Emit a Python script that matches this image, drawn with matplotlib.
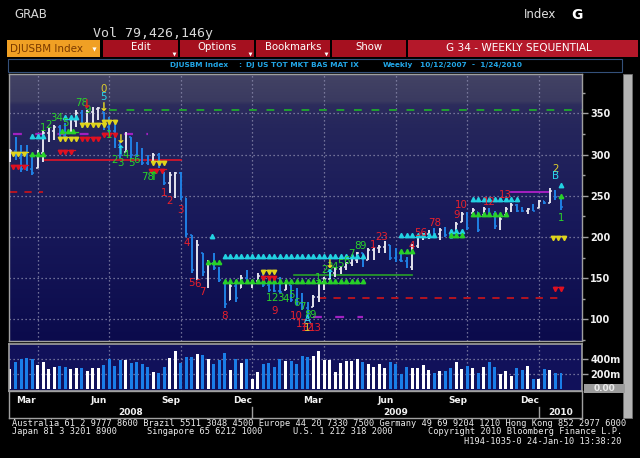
import datetime as dt
import numpy as np
import matplotlib
matplotlib.use('Agg')
import matplotlib.pyplot as plt
import matplotlib.dates as mdates
from matplotlib.colors import LinearSegmentedColormap
from matplotlib.patches import Rectangle

plt.rcParams['font.family'] = ['DejaVu Sans']

# ---- weekly data, DJUSBM index ----
start = dt.date(2008, 2, 22)
highs = [307, 321, 311, 311, 301, 305, 330, 332, 336, 336, 338, 344, 354, 354, 354, 358, 358, 352, 345, 338,
         315, 327, 321, 315, 308, 300, 302, 302, 279, 279, 279, 279, 247, 202, 196, 181, 172, 180, 163, 144,
         144, 148, 154, 160, 148, 156, 156, 150, 147, 151, 148, 142, 138, 132, 121, 130, 148, 151, 158, 163,
         165, 170, 174, 182, 180, 186, 188, 190, 195, 190, 186, 181, 176, 192, 200, 205, 208, 211, 211, 212,
         208, 218, 230, 230, 235, 230, 236, 235, 232, 224, 236, 241, 240, 236, 235, 240, 245, 244, 259, 257, 248]
lows = [291, 293, 279, 280, 275, 284, 291, 315, 318, 320, 320, 327, 333, 332, 338, 338, 342, 330, 326, 308,
        296, 303, 296, 297, 287, 287, 290, 284, 263, 253, 247, 245, 200, 156, 148, 153, 138, 160, 145, 114,
        123, 121, 138, 144, 138, 145, 139, 133, 133, 132, 135, 121, 117, 111, 100, 115, 121, 135, 145, 151,
        155, 160, 165, 168, 163, 172, 172, 181, 181, 172, 170, 170, 162, 160, 186, 196, 198, 203, 196, 200,
        198, 208, 218, 208, 229, 206, 226, 226, 210, 208, 226, 230, 230, 230, 228, 231, 235, 240, 241, 245, 233]
closes = [304, 296, 283, 282, 278, 302, 326, 329, 333, 323, 321, 341, 350, 336, 351, 355, 357, 333, 328, 311,
          299, 322, 300, 298, 290, 288, 299, 287, 266, 275, 277, 249, 203, 160, 190, 158, 168, 162, 148, 118,
          140, 126, 150, 146, 147, 153, 142, 136, 134, 133, 145, 124, 120, 114, 104, 127, 145, 149, 156, 161,
          163, 168, 172, 180, 166, 184, 186, 188, 193, 175, 172, 171, 164, 189, 198, 203, 206, 204, 209, 202,
          199, 216, 228, 211, 233, 209, 234, 228, 213, 222, 234, 239, 232, 231, 234, 232, 243, 241, 256, 248, 236]
volumes = [271, 369, 400, 422, 400, 329, 369, 276, 302, 311,
           302, 276, 289, 289, 240, 289, 289, 324, 400, 311,
           391, 391, 347, 364, 338, 302, 227, 213, 302, 418,
           511, 356, 436, 436, 471, 458, 400, 338, 391, 480,
           262, 400, 347, 400, 138, 236, 333, 347, 298, 400,
           382, 382, 338, 444, 436, 449, 511, 391, 387, 236,
           356, 378, 382, 404, 360, 333, 302, 333, 289, 369,
           338, 204, 302, 289, 289, 320, 258, 222, 244, 249,
           284, 369, 271, 311, 289, 213, 302, 369, 298, 204,
           249, 178, 289, 262, 311, 133, 133, 271, 258, 213, 213]  # millions

# TD sequential counts: (text, week index, price)
green_counts = [("1", 6, 332), ("2", 7, 336), ("34", 8.5, 344), ("5", 10, 338), ("78", 13, 362), ("9", 14, 354),
                ("1", 18, 324), ("2", 19, 293), ("3", 20, 290), ("4", 21, 299), ("5", 22, 290), ("6", 23, 293),
                ("78", 25, 273), ("1", 47, 126), ("2", 48, 126), ("3", 49, 126), ("4", 50, 125), ("5", 51, 130),
                ("6", 52, 120), ("7", 53, 115), ("8", 54, 105), ("9", 55, 105), ("1", 56, 150), ("2", 57, 160),
                ("3", 58, 164), ("4", 59, 164), ("5", 60, 167), ("6", 61, 171), ("7", 62, 179), ("8", 63, 189),
                ("9", 64, 189), ("1", 100, 223)]
red_counts = [("1", 28, 253), ("2", 29, 244), ("3", 31, 233), ("4", 32, 193), ("5", 33, 144), ("6", 34, 143),
              ("7", 35, 133), ("8", 39, 104), ("9", 48, 110), ("10", 52, 104), ("11", 53, 94), ("12", 54, 89),
              ("13", 55.5, 89), ("1", 66, 190), ("23", 67.5, 200), ("4", 73, 189), ("56", 74.5, 205),
              ("78", 77, 217), ("9", 81, 227), ("10", 82, 239), ("12", 87, 242), ("13", 90, 251)]
yellow_marks = [("0", 17, 379), ("1", 54, 90), ("2", 99, 283)]
cyan_marks = [("5", 17, 370), ("A", 54, 99), ("B", 99, 274)]

# arrows: (week index, price)
yellow_down = [(17, 357), (20, 318), (58, 166)]
red_down = [(14, 361)]
cyan_up = [(20, 305), (58, 154)]
green_up = [(26, 273)]

# rows of triangles: (from week, to week, price)
cyan_rows = [(4, 6, 320), (10, 12, 343), (36.7, 36.7, 199), (39, 64, 174.5), (71, 77, 200), (80, 82, 205),
             (84, 92, 243.5), (100, 100, 261)]
green_rows = [(4, 6, 299), (9.5, 12, 327), (36, 38, 168), (39, 64, 144), (71, 73, 180.5), (80, 82, 200),
              (84, 90, 225.5), (100, 100, 248)]
yellow_rows = [(0.5, 3, 303), (9, 12, 321), (13, 17, 338), (17, 19, 342), (26, 28, 292), (46, 48, 160),
               (98.5, 100.5, 201)]
red_rows = [(0.5, 3, 287), (9, 11.5, 305), (13, 16, 321), (17, 19, 326), (25.5, 28, 282), (46, 48, 152),
            (99, 100, 139)]

# TDST / risk levels: (from week, to week, price)
red_solid_levels = [(6, 31, 293)]
red_dashed_levels = [(0, 6, 254), (56, 100, 126)]
purple_dashed_levels = [(0.5, 25, 325), (55, 64, 103)]
purple_solid_levels = [(91, 98, 254.6)]
green_dashed_levels = [(18, 106, 354)]
green_solid_levels = [(51.5, 73, 154)]

price_ticks = [100, 150, 200, 250, 300, 350]
vol_ticks = [200, 400]
vol_tick_labels = ["200m", "400m"]
months = [(2008, 3, "Mar"), (2008, 6, "Jun"), (2008, 9, "Sep"), (2008, 12, "Dec"),
          (2009, 3, "Mar"), (2009, 6, "Jun"), (2009, 9, "Sep"), (2009, 12, "Dec")]
years = ["2008", "2009", "2010"]

# ---- layout helpers (pixel boxes on a 640x458 canvas) ----
W, H = 640, 458


def px_box(x0, y0, x1, y1):
    return [x0 / W, 1 - y1 / H, (x1 - x0) / W, (y1 - y0) / H]


fig = plt.figure(figsize=(6.4, 4.58), dpi=100, facecolor='black')

bg = fig.add_axes([0, 0, 1, 1])
bg.set_xlim(0, W)
bg.set_ylim(H, 0)
bg.axis('off')

# header
bg.text(14, 15, "GRAB", color='#d8d8d8', fontsize=8.5, va='center')
bg.text(93, 33, "Vol 79,426,146y", color='#d8d8d8', fontsize=9.5, family='DejaVu Sans Mono', va='center')
bg.text(524, 15, "Index", color='#e0e0e0', fontsize=8.5, va='center')
bg.text(571, 15, "G", color='#ffffff', fontsize=10, fontweight='bold', va='center')

# menu bar
bg.add_patch(Rectangle((7, 40), 93, 17, facecolor='#f0a024', edgecolor='none'))
bg.text(10, 48.5, "DJUSBM Index", color='#7a3a00', fontsize=7.5, va='center')
bg.plot([94], [49], marker='v', ms=3, color='white', mec='none')
menu = [("Edit", 103, 178), ("Options", 180, 254), ("Bookmarks", 256, 330), ("Show", 332, 406)]
for label, a, b in menu:
    bg.add_patch(Rectangle((a, 40), b - a, 17, facecolor='#a5101f', edgecolor='none'))
    bg.text((a + b) / 2, 47, label, color='white', fontsize=7.3, ha='center', va='center')
    if label != "Show":
        bg.plot([b - 4], [54], marker='v', ms=2.8, color='white', mec='none')
bg.add_patch(Rectangle((408, 40), 230, 17, facecolor='#b4182a', edgecolor='none'))
bg.text(519, 48.5, "G 34 - WEEKLY SEQUENTIAL", color='white', fontsize=7.6, ha='center', va='center')

# sub header
bg.add_patch(Rectangle((8, 58.5), 614, 13, facecolor='black', edgecolor='#34507a', lw=0.8))
cyan_txt = '#22a6e6'
bg.text(199, 65, "DJUSBM Index", color=cyan_txt, fontsize=5.3, fontweight='bold', ha='center', va='center')
bg.text(240, 65, ":", color=cyan_txt, fontsize=5.3, fontweight='bold', ha='center', va='center')
bg.text(302, 65, "DJ US TOT MKT BAS MAT IX", color=cyan_txt, fontsize=5.3, fontweight='bold',
        ha='center', va='center')
bg.text(398, 65, "Weekly", color=cyan_txt, fontsize=5.3, fontweight='bold', ha='center', va='center')
bg.text(471, 65, "10/12/2007  -  1/24/2010", color=cyan_txt, fontsize=5.3, fontweight='bold',
        ha='center', va='center')

# scroll bar on the right
bg.add_patch(Rectangle((623, 74), 9, 344, facecolor='#b4b4b4', edgecolor='#707070', lw=0.6))

# footer
mono = 'DejaVu Sans Mono'
bg.text(12, 423, "Australia 61 2 9777 8600 Brazil 5511 3048 4500 Europe 44 20 7330 7500 Germany 49 69 9204 1210 "
        "Hong Kong 852 2977 6000", color='#ececec', fontsize=6.2, family=mono, va='center')
bg.text(12, 432, "Japan 81 3 3201 8900", color='#ececec', fontsize=6.2, family=mono, va='center')
bg.text(147, 432, "Singapore 65 6212 1000", color='#ececec', fontsize=6.2, family=mono, va='center')
bg.text(293, 432, "U.S. 1 212 318 2000", color='#ececec', fontsize=6.2, family=mono, va='center')
bg.text(622, 432, "Copyright 2010 Bloomberg Finance L.P.", color='#ececec', fontsize=6.2, family=mono,
        va='center', ha='right')
bg.text(622, 441, "H194-1035-0 24-Jan-10 13:38:20", color='#ececec', fontsize=6.2, family=mono,
        va='center', ha='right')

# ---- dates ----
weeks = [start + dt.timedelta(weeks=i) for i in range(len(highs))]
xs = mdates.date2num(weeks)
x0 = xs[0]


def wx(i):
    return x0 + 7 * np.asarray(i, dtype=float)


px_per_day = 5.51 / 7
xl = xs[0] - 1 / px_per_day
xr = xs[-1] + 21 / px_per_day
grid_x = [mdates.date2num(w) for w in weeks
          if w.month in (3, 6, 9, 12) and (w + dt.timedelta(days=7)).month != w.month]
year_sep = [mdates.date2num(w) for w in weeks
            if w.month == 12 and (w + dt.timedelta(days=7)).month != w.month]

grid_kw = dict(color='#8c8cae', lw=0.9, linestyle=(0, (1, 2.2)))
axis_col = '#a0a0a0'

# ---- price panel ----
ax = fig.add_axes(px_box(9, 74, 582, 341))
ylo, yhi = 73.7, 397.7
ax.set_xlim(xl, xr)
ax.set_ylim(ylo, yhi)
cmap = LinearSegmentedColormap.from_list('bbg', [(0, '#0b0b4c'), (0.45, '#18195a'), (0.8, '#25265c'),
                                                (0.885, '#2c2c5c'), (0.9, '#3a3a60'), (1, '#434364')])
ax.imshow(np.linspace(0, 1, 256).reshape(-1, 1), extent=[xl, xr, ylo, yhi], aspect='auto',
          cmap=cmap, origin='lower', zorder=0)
for p in price_ticks:
    ax.axhline(p, zorder=1, **grid_kw)
for g in grid_x:
    ax.axvline(g, zorder=1, **grid_kw)

# levels
for a, b, lvl in red_solid_levels:
    ax.plot([wx(a), wx(b)], [lvl, lvl], color='#e01428', lw=1.2, zorder=2)
for a, b, lvl in red_dashed_levels:
    ax.plot([wx(a), wx(b)], [lvl, lvl], color='#c0141e', lw=1.3, linestyle=(0, (4, 4)), zorder=2)
for a, b, lvl in purple_dashed_levels:
    ax.plot([wx(a), wx(b)], [lvl, lvl], color='#a020c0', lw=1.6, linestyle=(0, (4, 6)), zorder=2)
for a, b, lvl in purple_solid_levels:
    ax.plot([wx(a), wx(b)], [lvl, lvl], color='#b020c8', lw=1.3, zorder=2)
for a, b, lvl in green_dashed_levels:
    ax.plot([wx(a), wx(b)], [lvl, lvl], color='#20a030', lw=1.4, linestyle=(0, (4, 5)), zorder=2)
for a, b, lvl in green_solid_levels:
    ax.plot([wx(a), wx(b)], [lvl, lvl], color='#28a028', lw=1.2, zorder=2)

# OHLC bars
up = [True] + [closes[i] >= closes[i - 1] for i in range(1, len(closes))]
bar_cols = ['#e4e4ee' if u else '#2080e4' for u in up]
opens = [closes[0]] + [min(max(closes[i - 1], lows[i]), highs[i]) for i in range(1, len(closes))]
ax.vlines(xs, lows, highs, colors=bar_cols, lw=1.4, zorder=3)
ax.hlines(closes, xs, xs + 2.2, colors=bar_cols, lw=1.1, zorder=3)
ax.hlines(opens, xs - 2.2, xs, colors=bar_cols, lw=1.1, zorder=3)


def draw_rows(rows, color, marker, off):
    for a, b, lvl in rows:
        pts = np.arange(a, b + 0.01, 1.0)
        ax.plot([wx(a) - 2, wx(b) + 2], [lvl, lvl], color=color, lw=0.9, zorder=4)
        ax.plot(wx(pts), np.full(len(pts), lvl + off), linestyle='none', marker=marker, ms=3.1,
                color=color, mec=color, zorder=4)


draw_rows(cyan_rows, '#22d2e2', '^', 2.0)
draw_rows(green_rows, '#28d028', '^', 2.0)
draw_rows(yellow_rows, '#e0d41c', 'v', -2.0)
draw_rows(red_rows, '#e01020', 'v', -2.0)

txt_kw = dict(ha='center', va='center', fontsize=7.4, zorder=6)
for t, i, p in green_counts:
    ax.text(wx(i), p, t, color='#2ad42a', **txt_kw)
for t, i, p in red_counts:
    ax.text(wx(i), p, t, color='#e8202c', **txt_kw)
for t, i, p in yellow_marks:
    ax.text(wx(i), p, t, color='#e0d02c', **txt_kw)
for t, i, p in cyan_marks:
    ax.text(wx(i), p, t, color='#2ad4ec', **txt_kw)

arrow_kw = dict(ha='center', va='center', fontsize=8.5, fontweight='bold', zorder=6)
for i, p in yellow_down:
    ax.text(wx(i), p, "\u2193", color='#f0e020', **arrow_kw)
for i, p in red_down:
    ax.text(wx(i), p, "\u2193", color='#e81020', **arrow_kw)
for i, p in cyan_up:
    ax.text(wx(i), p, "\u2191", color='#20e0f0', **arrow_kw)
for i, p in green_up:
    ax.text(wx(i), p, "\u2191", color='#20d020', **arrow_kw)

ax.set_xticks([])
ax.yaxis.tick_right()
ax.set_yticks(price_ticks)
ax.set_yticks(np.arange(75, 400, 25), minor=True)
ax.tick_params(axis='y', which='major', colors=axis_col, length=4, width=1, pad=2,
               labelcolor='#f0f0f0', labelsize=7)
ax.tick_params(axis='y', which='minor', colors=axis_col, length=2, width=1)
for lab in ax.get_yticklabels():
    lab.set_fontweight('bold')
for s in ax.spines.values():
    s.set_color(axis_col)
    s.set_linewidth(1)

# ---- volume panel ----
vax = fig.add_axes(px_box(9, 344, 582, 391))
vax.set_facecolor('#11115a')
vax.set_xlim(xl, xr)
vax.set_ylim(-22, 604)
for v in vol_ticks:
    vax.axhline(v, zorder=1, **grid_kw)
for g in grid_x:
    vax.axvline(g, zorder=1, **grid_kw)
vax.bar(xs, volumes, width=3.8, color=['#ffffff' if u else '#1a7ee8' for u in up], zorder=2)
vax.set_xticks([])
vax.yaxis.tick_right()
vax.set_yticks(vol_ticks)
vax.set_yticklabels(vol_tick_labels)
vax.tick_params(axis='y', colors=axis_col, length=4, width=1, pad=2, labelcolor='#f0f0f0', labelsize=7)
for lab in vax.get_yticklabels():
    lab.set_fontweight('bold')
for s in vax.spines.values():
    s.set_color(axis_col)
    s.set_linewidth(1.2)

bg.add_patch(Rectangle((584, 384), 41, 9, facecolor='#9c9c9c', edgecolor='none', zorder=5))
bg.text(604, 388.5, "0.00", color='#eaeaea', fontsize=6.5, fontweight='bold', ha='center', va='center',
        zorder=6)

# ---- date band ----
dax = fig.add_axes(px_box(9, 391, 582, 418))
dax.set_facecolor('black')
dax.set_xlim(xl, xr)
dax.set_ylim(0, 1)
dax.set_xticks([])
dax.set_yticks([])
for s in dax.spines.values():
    s.set_color(axis_col)
    s.set_linewidth(1)
for y, m, name in months:
    mx = mdates.date2num(dt.date(y, m, 13))
    dax.text(mx, 0.66, name, color='#f2f2f2', fontsize=6.5, fontweight='bold', ha='center', va='center')
for sx in year_sep:
    dax.plot([sx, sx], [0, 0.42], color=axis_col, lw=1)
bounds = [xl] + year_sep + [xr]
for k, name in enumerate(years):
    dax.text((bounds[k] + bounds[k + 1]) / 2, 0.2, name, color='#f2f2f2', fontsize=6.5,
             fontweight='bold', ha='center', va='center')

fig.savefig('out.png', dpi=100, facecolor='black')
